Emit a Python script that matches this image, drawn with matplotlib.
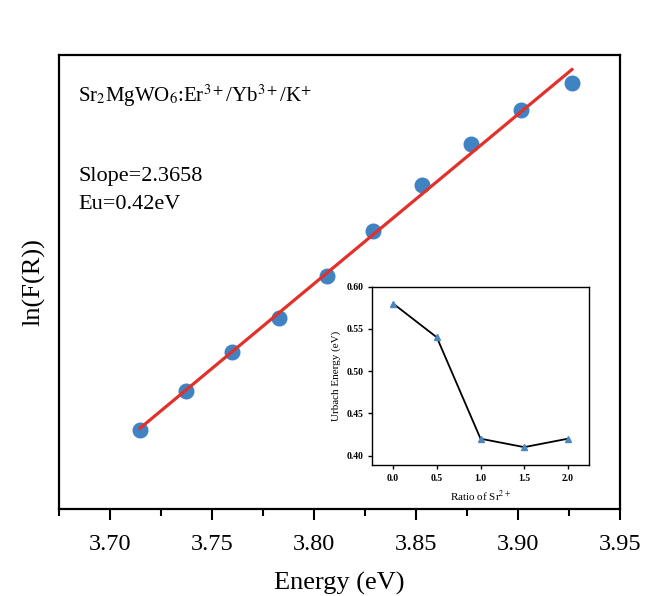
import numpy as np
import matplotlib
matplotlib.use('Agg')
import matplotlib.pyplot as plt
from matplotlib.ticker import MultipleLocator, NullLocator, FormatStrFormatter

plt.rcParams['font.family'] = ['Liberation Serif', 'DejaVu Serif']
plt.rcParams['mathtext.fontset'] = 'stix'

# main data: ln(F(R)) vs photon energy
energy = np.array([3.7147, 3.7373, 3.7598, 3.7828, 3.8064,
                   3.8289, 3.8529, 3.8770, 3.9015, 3.9265])
ln_fr = np.array([0.000, 0.056, 0.112, 0.161, 0.222,
                  0.287, 0.353, 0.411, 0.460, 0.499])

# inset data: Urbach energy vs Sr ratio
ratio_sr = np.array([0.0, 0.5, 1.0, 1.5, 2.0])
urbach = np.array([0.58, 0.54, 0.42, 0.41, 0.42])

fig = plt.figure(figsize=(6.45, 5.96), dpi=100)
ax = fig.add_axes([0.0915, 0.146, 0.8695, 0.762])

ax.plot(energy, ln_fr, 'o', color='#3f83c2', markersize=10.5, zorder=2)
k, b = np.polyfit(energy, ln_fr, 1)
xfit = np.array([energy[0], energy[-1]])
ax.plot(xfit, k * xfit + b, color='#e2312a', lw=2.3, zorder=3)

ax.set_xlim(3.675, 3.95)
ax.set_ylim(-0.114, 0.540)
ax.xaxis.set_major_locator(MultipleLocator(0.05))
ax.xaxis.set_minor_locator(MultipleLocator(0.025))
ax.xaxis.set_major_formatter(FormatStrFormatter('%.2f'))
ax.yaxis.set_major_locator(NullLocator())
ax.tick_params(axis='x', which='major', direction='out', length=8, width=1.5,
               labelsize=17.5, pad=10)
ax.tick_params(axis='x', which='minor', direction='out', length=5, width=1.5)
for s in ax.spines.values():
    s.set_linewidth(1.6)

ax.set_xlabel('Energy (eV)', fontsize=19, labelpad=12)
ax.set_ylabel('ln(F(R))', fontsize=19, labelpad=10)

ax.text(0.034, 0.91, r'Sr$_2$MgWO$_6$:Er$^{3+}$/Yb$^{3+}$/K$^{+}$',
        transform=ax.transAxes, fontsize=15, va='center', ha='left')
ax.text(0.034, 0.733, 'Slope=2.3658', transform=ax.transAxes, fontsize=16,
        va='center', ha='left')
ax.text(0.034, 0.670, 'Eu=0.42eV', transform=ax.transAxes, fontsize=16,
        va='center', ha='left')

# inset
ins = fig.add_axes([0.577, 0.220, 0.336, 0.299])
ins.plot(ratio_sr, urbach, color='black', lw=1.3, zorder=2)
ins.plot(ratio_sr, urbach, '^', color='#4a86c0', markersize=5, zorder=3)
ins.set_xlim(-0.24, 2.24)
ins.set_ylim(0.389, 0.60)
ins.xaxis.set_major_locator(MultipleLocator(0.5))
ins.yaxis.set_major_locator(MultipleLocator(0.05))
ins.xaxis.set_major_formatter(FormatStrFormatter('%.1f'))
ins.yaxis.set_major_formatter(FormatStrFormatter('%.2f'))
ins.tick_params(direction='out', length=3, width=1, labelsize=7)
for lbl in ins.get_xticklabels() + ins.get_yticklabels():
    lbl.set_fontweight('bold')
for s in ins.spines.values():
    s.set_linewidth(1.0)
ins.set_xlabel('Ratio of Sr$^{2+}$', fontsize=8)
ins.set_ylabel('Urbach Energy (eV)', fontsize=8)

fig.savefig('out.png', dpi=100)
